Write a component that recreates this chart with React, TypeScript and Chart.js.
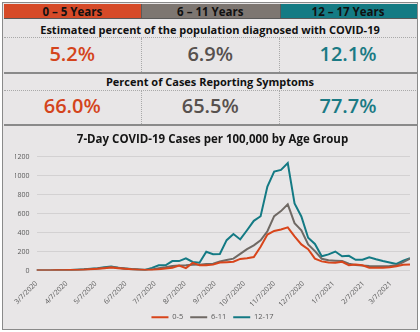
import React, { useEffect, useRef } from 'react';
import { Chart, registerables } from 'chart.js';

Chart.register(...registerables);

const FONT = '"Open Sans", "Noto Sans", sans-serif';

const ageGroups = ['0 – 5 Years', '6 – 11 Years', '12 – 17 Years'];
const groupColors = ['#d64a28', '#7d7671', '#147b84'];
const valueColors = ['#d4441c', '#57514e', '#1a7a84'];
const diagnosedTitle = 'Estimated percent of the population diagnosed with COVID-19';
const diagnosedPct = ['5.2%', '6.9%', '12.1%'];
const symptomTitle = 'Percent of Cases Reporting Symptoms';
const symptomPct = ['66.0%', '65.5%', '77.7%'];

const chartTitle = '7-Day COVID-19 Cases per 100,000 by Age Group';
const seriesLabels = ['0-5', '6-11', '12-17'];
const lineColors = ['#d8451b', '#6f6964', '#147a84'];

const weekDates = [
  '3/7/2020', '3/14/2020', '3/21/2020', '3/28/2020', '4/4/2020', '4/11/2020', '4/18/2020', '4/25/2020',
  '5/2/2020', '5/9/2020', '5/16/2020', '5/23/2020', '5/30/2020', '6/6/2020', '6/13/2020', '6/20/2020',
  '6/27/2020', '7/4/2020', '7/11/2020', '7/18/2020', '7/25/2020', '8/1/2020', '8/8/2020', '8/15/2020',
  '8/22/2020', '8/29/2020', '9/5/2020', '9/12/2020', '9/19/2020', '9/26/2020', '10/3/2020', '10/10/2020',
  '10/17/2020', '10/24/2020', '10/31/2020', '11/7/2020', '11/14/2020', '11/21/2020', '11/28/2020', '12/5/2020',
  '12/12/2020', '12/19/2020', '12/26/2020', '1/2/2021', '1/9/2021', '1/16/2021', '1/23/2021', '1/30/2021',
  '2/6/2021', '2/13/2021', '2/20/2021', '2/27/2021', '3/6/2021', '3/13/2021', '3/20/2021', '3/27/2021',
];

const cases0to5 = [
  0, 0, 1, 2, 3, 4, 6, 9, 13, 18, 25, 32, 25, 18, 12, 8,
  5, 6, 12, 22, 28, 52, 25, 80, 55, 55, 62, 85, 88, 92, 122, 130,
  142, 250, 380, 418, 432, 455, 360, 275, 225, 125, 96, 85, 82, 92,
  55, 62, 55, 30, 28, 28, 35, 45, 60, 64,
];
const cases6to11 = [
  0, 0, 1, 2, 3, 5, 7, 10, 15, 20, 28, 36, 28, 20, 14, 10,
  8, 12, 25, 35, 48, 52, 55, 60, 62, 68, 72, 95, 110, 125, 175, 225,
  265, 319, 414, 573, 627, 698, 500, 425, 276, 205, 124, 108, 104, 100,
  72, 58, 52, 48, 46, 45, 48, 55, 88, 125,
];
const cases12to17 = [
  0, 0, 1, 2, 3, 5, 8, 12, 18, 25, 35, 42, 30, 22, 15, 10,
  5, 28, 55, 55, 99, 99, 128, 90, 82, 198, 172, 175, 320, 385, 328, 425,
  524, 573, 885, 1044, 1062, 1133, 708, 570, 345, 280, 150, 170, 200, 150,
  155, 113, 113, 140, 118, 100, 85, 70, 105, 130,
];

const monthTickLabels = [
  '3/7/2020', '4/7/2020', '5/7/2020', '6/7/2020', '7/7/2020', '8/7/2020', '9/7/2020',
  '10/7/2020', '11/7/2020', '12/7/2020', '1/7/2021', '2/7/2021', '3/7/2021',
];
const yMax = 1200;
const yStep = 200;

function toDate(s: string) {
  const [m, d, y] = s.split('/').map(Number);
  return new Date(y, m - 1, d);
}
const origin = toDate(weekDates[0]);
function dayOffset(s: string) {
  return Math.round((toDate(s).getTime() - origin.getTime()) / 86400000);
}

function ChartBox() {
  const ref = useRef<HTMLCanvasElement>(null);
  useEffect(() => {
    if (!ref.current) return;
    const xs = weekDates.map(dayOffset);
    const tickDays = monthTickLabels.map(dayOffset);
    const series = [cases0to5, cases6to11, cases12to17];
    const chart = new Chart(ref.current, {
      type: 'line',
      data: {
        datasets: series.map((vals, i) => ({
          label: seriesLabels[i],
          data: vals.map((v, j) => ({ x: xs[j], y: v })),
          borderColor: lineColors[i],
          backgroundColor: lineColors[i],
          borderWidth: 2,
          pointRadius: 0,
          tension: 0,
        })),
      },
      options: {
        responsive: false,
        animation: false,
        devicePixelRatio: 1,
        layout: { padding: { left: 12, right: 7, top: 0, bottom: 0 } },
        plugins: {
          title: {
            display: true,
            text: chartTitle,
            color: '#151515',
            font: { family: FONT, size: 11.5, weight: 'bold' },
            padding: { top: 7, bottom: 10 },
          },
          legend: {
            position: 'bottom',
            labels: {
              usePointStyle: true,
              pointStyle: 'line',
              pointStyleWidth: 17,
              color: '#595959',
              font: { family: FONT, size: 7.5 },
              padding: 7,
            },
          },
          tooltip: { enabled: false },
        },
        scales: {
          x: {
            type: 'linear',
            min: 0,
            max: xs[xs.length - 1],
            grid: { display: false },
            border: { display: false },
            afterBuildTicks: (axis: any) => {
              axis.ticks = tickDays.map((v) => ({ value: v }));
            },
            afterFit: (axis: any) => {
              axis.height = 36;
            },
            ticks: {
              autoSkip: false,
              maxRotation: 45,
              minRotation: 45,
              padding: 1,
              color: '#595959',
              font: { family: FONT, size: 7 },
              callback: (_v: any, idx: number) => monthTickLabels[idx],
            },
          },
          y: {
            min: 0,
            max: yMax,
            grid: { color: '#d3d1d2', drawTicks: false, lineWidth: 1 },
            border: { display: false },
            afterFit: (axis: any) => {
              axis.width = 21.5;
            },
            ticks: {
              stepSize: yStep,
              padding: 7,
              color: '#595959',
              font: { family: FONT, size: 7 },
              callback: (v: any) => String(v),
            },
          },
        },
      },
    } as any);
    return () => chart.destroy();
  }, []);
  return (
    <canvas
      ref={ref}
      width={414}
      height={205}
      style={{ position: 'absolute', left: 3, top: 126, width: 414, height: 205 }}
    />
  );
}

const abs = (o: React.CSSProperties): React.CSSProperties => ({ position: 'absolute', ...o });

function Centered({ left, width, cy, h, style, children }: any) {
  return (
    <div
      style={abs({
        left,
        width,
        top: cy - h / 2,
        height: h,
        display: 'flex',
        alignItems: 'center',
        justifyContent: 'center',
        whiteSpace: 'nowrap',
        fontFamily: FONT,
        ...style,
      })}
    >
      {children}
    </div>
  );
}

export default function App() {
  const cols = [
    [3.5, 141],
    [141, 279.5],
    [279.5, 416.5],
  ];
  return (
    <div style={abs({ left: 0, top: 0, width: 420, height: 332, background: '#ffffff', overflow: 'hidden' })}>
      <div
        style={abs({
          left: 2,
          top: 2,
          width: 416,
          height: 328,
          boxSizing: 'border-box',
          border: '1.5px solid #8a8a8a',
          background: '#e8e6e7',
        })}
      />
      {cols.map(([a, b], i) => (
        <div
          key={'h' + i}
          style={abs({
            left: a,
            top: 3.5,
            width: b - a,
            height: 15.5,
            background: groupColors[i],
            boxSizing: 'border-box',
            borderBottom: '1px solid #5a5a5a',
            borderLeft: i > 0 ? '1px solid #5a5a5a' : 'none',
          })}
        />
      ))}
      {cols.map(([a, b], i) => (
        <Centered key={'ht' + i} left={a} width={b - a} cy={11.5} h={16} style={{ fontSize: 11.5, fontWeight: 700, color: '#111' }}>
          {ageGroups[i]}
        </Centered>
      ))}
      <Centered left={3.5} width={413} cy={29} h={16} style={{ fontSize: 11, fontWeight: 700, color: '#111' }}>
        {diagnosedTitle}
      </Centered>
      <div style={abs({ left: 4, top: 37, width: 412, height: 0, borderTop: '1px dotted #a9a9a9' })} />
      <div style={abs({ left: 141, top: 38, width: 0, height: 34, borderLeft: '1px dotted #a9a9a9' })} />
      <div style={abs({ left: 279, top: 38, width: 0, height: 34, borderLeft: '1px dotted #a9a9a9' })} />
      {cols.map(([a, b], i) => (
        <Centered key={'d' + i} left={a} width={b - a} cy={53} h={26} style={{ fontSize: 20, fontWeight: 600, color: valueColors[i] }}>
          {diagnosedPct[i]}
        </Centered>
      ))}
      <div style={abs({ left: 3.5, top: 71.5, width: 413, height: 2, background: '#8a8a8a' })} />
      <Centered left={3.5} width={413} cy={81} h={16} style={{ fontSize: 11, fontWeight: 700, color: '#111' }}>
        {symptomTitle}
      </Centered>
      <div style={abs({ left: 4, top: 90, width: 412, height: 0, borderTop: '1px dotted #a9a9a9' })} />
      <div style={abs({ left: 141, top: 91, width: 0, height: 33, borderLeft: '1px dotted #a9a9a9' })} />
      <div style={abs({ left: 279, top: 91, width: 0, height: 33, borderLeft: '1px dotted #a9a9a9' })} />
      {cols.map(([a, b], i) => (
        <Centered key={'s' + i} left={a} width={b - a} cy={105.5} h={26} style={{ fontSize: 20, fontWeight: 600, color: valueColors[i] }}>
          {symptomPct[i]}
        </Centered>
      ))}
      <div style={abs({ left: 3.5, top: 124, width: 413, height: 2, background: '#8a8a8a' })} />
      <ChartBox />
    </div>
  );
}
